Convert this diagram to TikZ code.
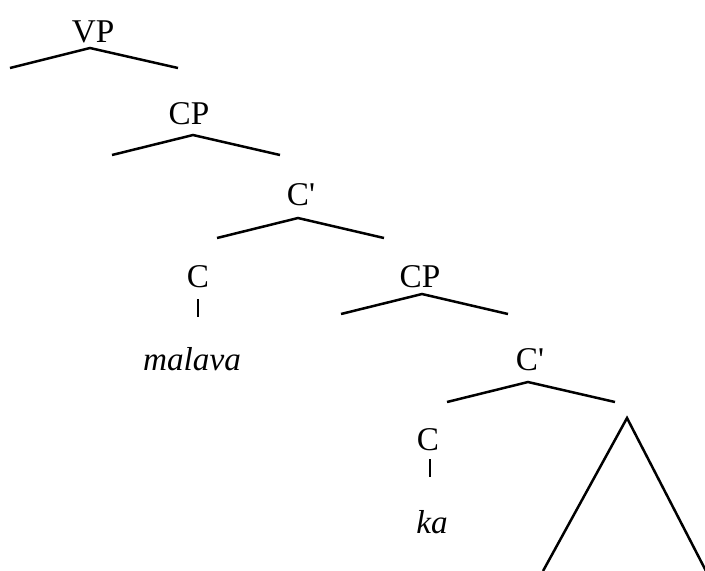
\documentclass[tikz,border=0pt]{standalone}
\usepackage{fontspec}
\setmainfont{Liberation Serif}
\begin{document}
\begin{tikzpicture}[x=0.5pt,y=-0.5pt,
	every node/.style={inner sep=0pt, anchor=base, font=\fontsize{16.6}{20}\selectfont},
	branch/.style={line width=1.25pt}]
	\useasboundingbox (0,0) rectangle (705,570);
	% les etiquettes
	\node (vp) at (93,42) {VP};
	\node (cp1) at (189,124) {CP};
	\node (cbar1) at (301,205) {C\textquotesingle};
	\node (c1) at (198,287) {C};
	\node (cp2) at (420,287) {CP};
	\node (malava) at (192,370) {\itshape malava};
	\node (cbar2) at (530,370) {C\textquotesingle};
	\node (c2) at (428,450) {C};
	\node (ka) at (432,533) {\itshape ka};
	% les branches
	\coordinate (vpl) at (10,68);
	\coordinate (vpr) at (178,68);
	\draw[branch] (vpl) -- (90,48) -- (vpr);
	\coordinate (cp1l) at (112,155);
	\coordinate (cp1r) at (280,155);
	\draw[branch] (cp1l) -- (193,135) -- (cp1r);
	\coordinate (cbar1l) at (217,238);
	\coordinate (cbar1r) at (384,238);
	\draw[branch] (cbar1l) -- (298,218) -- (cbar1r);
	\coordinate (cp2l) at (341,314);
	\coordinate (cp2r) at (508,314);
	\draw[branch] (cp2l) -- (422,294) -- (cp2r);
	\coordinate (cbar2l) at (447,402);
	\coordinate (cbar2r) at (615,402);
	\draw[branch] (cbar2l) -- (528,382) -- (cbar2r);
	% les tetes
	\draw[branch] (198,299) -- (198,317);
	\draw[branch] (430,459) -- (430,477);
	% le triangle
	\coordinate (tri) at (627,418);
	\draw[branch] (543,571) -- (tri) -- (706,571);
\end{tikzpicture}
\end{document}
